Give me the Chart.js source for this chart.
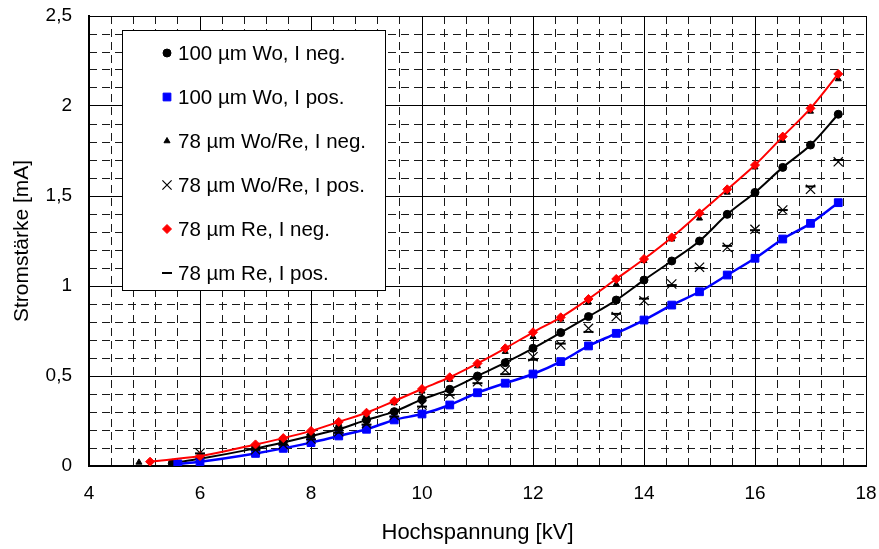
<!DOCTYPE html>
<html>
<head>
<meta charset="utf-8">
<script src="https://cdn.jsdelivr.net/npm/chart.js@4/dist/chart.umd.min.js"></script>
<style>
  body { margin: 0; background: #fff; }
  #wrap { position: relative; width: 879px; height: 549px; }
</style>
</head>
<body>
<div id="wrap"><canvas id="ctx"></canvas></div>
<script>
// voltages (kV)
const kvWoNeg   = [5.5, 6, 7, 7.5, 8, 8.5, 9, 9.5, 10, 10.5, 11, 11.5, 12, 12.5, 13, 13.5, 14, 14.5, 15, 15.5, 16, 16.5, 17, 17.5];
const kvWoPos   = [5.6, 6, 7, 7.5, 8, 8.5, 9, 9.5, 10, 10.5, 11, 11.5, 12, 12.5, 13, 13.5, 14, 14.5, 15, 15.5, 16, 16.5, 17, 17.5];
const kvWoReNeg = [4.9, 6, 7, 7.5, 8, 8.5, 9, 9.5, 10, 10.5, 11, 11.5, 12, 12.5, 13, 13.5, 14, 14.5, 15, 15.5, 16, 16.5, 17, 17.5];
const kvWoRePos = [6, 7, 7.5, 8, 8.5, 9, 9.5, 10, 10.5, 11, 11.5, 12, 12.5, 13, 13.5, 14, 14.5, 15, 15.5, 16, 16.5, 17, 17.5];
const kvReNeg   = [5.1, 6, 7, 7.5, 8, 8.5, 9, 9.5, 10, 10.5, 11, 11.5, 12, 12.5, 13, 13.5, 14, 14.5, 15, 15.5, 16, 16.5, 17, 17.5];
const kvRePos   = [6, 7, 7.5, 8, 8.5, 9, 9.5, 10, 10.5, 11, 11.5, 12, 12.5, 13, 13.5, 14, 14.5, 15, 15.5, 16, 16.5, 17, 17.5];

// currents (mA)
const mAWoNeg   = [0.015, 0.04, 0.098, 0.131, 0.167, 0.204, 0.256, 0.302, 0.37, 0.426, 0.5, 0.574, 0.654, 0.741, 0.83, 0.922, 1.033, 1.139, 1.25, 1.398, 1.52, 1.659, 1.783, 1.954];
const mAWoPos   = [0.012, 0.024, 0.07, 0.098, 0.13, 0.167, 0.204, 0.256, 0.289, 0.339, 0.407, 0.46, 0.511, 0.58, 0.667, 0.737, 0.811, 0.894, 0.968, 1.061, 1.154, 1.261, 1.348, 1.463];
const mAWoReNeg = [0.02, 0.05, 0.115, 0.15, 0.19, 0.235, 0.285, 0.35, 0.415, 0.48, 0.555, 0.635, 0.718, 0.815, 0.91, 1.01, 1.14, 1.26, 1.376, 1.52, 1.66, 1.81, 1.97, 2.15];
const mAWoRePos = [0.072, 0.09, 0.12, 0.15, 0.19, 0.235, 0.28, 0.339, 0.4, 0.468, 0.533, 0.607, 0.672, 0.765, 0.83, 0.918, 1.011, 1.104, 1.215, 1.315, 1.422, 1.537, 1.69];
const mAReNeg   = [0.024, 0.055, 0.12, 0.155, 0.195, 0.245, 0.296, 0.361, 0.428, 0.493, 0.57, 0.654, 0.743, 0.826, 0.928, 1.039, 1.15, 1.27, 1.404, 1.537, 1.672, 1.83, 1.987, 2.178];
const mARePos   = [0.07, 0.09, 0.118, 0.148, 0.185, 0.23, 0.275, 0.33, 0.395, 0.46, 0.51, 0.59, 0.68, 0.745, 0.845, 0.93, 1.005, 1.1, 1.223, 1.31, 1.422, 1.553, 1.7];

const seriesNames = ["100 µm Wo, I neg.", "100 µm Wo, I pos.", "78 µm Wo/Re, I neg.",
                     "78 µm Wo/Re, I pos.", "78 µm Re, I neg.", "78 µm Re, I pos."];
const xTicks = [4, 6, 8, 10, 12, 14, 16, 18];
const yTicks = [0, 0.5, 1, 1.5, 2, 2.5];

const FONT = "'Liberation Sans', Arial, sans-serif";

function pts(xs, ys) {
    return xs.map((x, i) => ({x: x, y: ys[i]}));
}

const datasets = [
    {label: seriesNames[0], data: pts(kvWoNeg, mAWoNeg), showLine: true, borderColor: "#000", borderWidth: 2,
     pointStyle: "circle", pointRadius: 4, pointBackgroundColor: "#000", pointBorderColor: "#000", pointBorderWidth: 1, order: 6},
    {label: seriesNames[1], data: pts(kvWoPos, mAWoPos), showLine: true, borderColor: "#0000ff", borderWidth: 2.5,
     pointStyle: "rect", pointRadius: 5.5, pointBackgroundColor: "#0000ff", pointBorderColor: "#0000ff", pointBorderWidth: 1, order: 5},
    {label: seriesNames[2], data: pts(kvWoReNeg, mAWoReNeg), showLine: false,
     pointStyle: "triangle", pointRadius: 3.5, pointBackgroundColor: "#000", pointBorderColor: "#000", pointBorderWidth: 1, order: 4},
    {label: seriesNames[3], data: pts(kvWoRePos, mAWoRePos), showLine: false,
     pointStyle: "crossRot", pointRadius: 6.5, pointBorderColor: "#000", pointBorderWidth: 1.2, order: 3},
    {label: seriesNames[4], data: pts(kvReNeg, mAReNeg), showLine: true, borderColor: "#ff0000", borderWidth: 2,
     pointStyle: "rectRot", pointRadius: 4.5, pointBackgroundColor: "#ff0000", pointBorderColor: "#ff0000", pointBorderWidth: 1, order: 2},
    {label: seriesNames[5], data: pts(kvRePos, mARePos), showLine: false,
     pointStyle: "line", pointRadius: 5, pointBorderColor: "#000", pointBorderWidth: 2, order: 1}
];

// legend box inside the plot, like the Excel original
const boxLegend = {
    id: "boxLegend",
    afterDatasetsDraw(chart) {
        const c = chart.ctx;
        c.save();
        c.fillStyle = "#fff";
        c.fillRect(122.5, 30.5, 263, 260);
        c.strokeStyle = "#000";
        c.lineWidth = 1;
        c.strokeRect(122.5, 30.5, 263, 260);
        c.font = "20.5px " + FONT;
        c.textBaseline = "middle";
        c.textAlign = "left";
        chart.data.datasets.forEach((ds, i) => {
            const y = 53 + i * 44;
            c.fillStyle = ds.pointBackgroundColor || "#000";
            c.strokeStyle = ds.pointBorderColor;
            c.lineWidth = ds.pointBorderWidth;
            Chart.helpers.drawPoint(c, {pointStyle: ds.pointStyle, radius: ds.pointRadius, borderWidth: ds.pointBorderWidth, rotation: 0}, 167, y);
            c.fillStyle = "#000";
            c.fillText(ds.label, 178, y + 1);
        });
        c.restore();
    }
};

new Chart("ctx", {
    type: "scatter",
    data: {datasets: datasets},
    plugins: [boxLegend],
    options: {
        responsive: true,
        maintainAspectRatio: false,
        animation: false,
        layout: {padding: {top: 16, right: 13, left: 0, bottom: 0}},
        plugins: {legend: {display: false}, tooltip: {enabled: false}},
        elements: {line: {cubicInterpolationMode: "monotone"}},
        scales: {
            x: {
                type: "linear", position: "bottom", min: 4, max: 18,
                afterBuildTicks: s => { s.ticks = xTicks.map(v => ({value: v})); },
                afterFit: s => { s.height = 83; s.paddingLeft = 0; s.paddingRight = 0; },
                ticks: {autoSkip: false, maxRotation: 0, padding: 16, color: "#000",
                        font: {family: FONT, size: 19}},
                grid: {color: "#000", lineWidth: 1, drawTicks: false, z: -1},
                border: {color: "#000", width: 2},
                title: {display: true, text: "Hochspannung [kV]", color: "#000",
                        font: {family: FONT, size: 22}, padding: {top: 0, bottom: 3}}
            },
            xMinor: {
                type: "linear", position: "bottom", min: 4, max: 18,
                ticks: {display: false, stepSize: 0.4, autoSkip: false},
                afterFit: s => { s.height = 0; s.paddingLeft = 0; s.paddingRight = 0; },
                grid: {color: "#1a1a1a", lineWidth: 1, drawTicks: false, z: -2},
                border: {display: false, dash: [8, 5]}
            },
            y: {
                type: "linear", position: "left", min: 0, max: 2.5,
                afterBuildTicks: s => { s.ticks = yTicks.map(v => ({value: v})); },
                afterFit: s => { s.width = 89; s.paddingTop = 0; s.paddingBottom = 0; },
                ticks: {padding: 17, color: "#000", font: {family: FONT, size: 19},
                        callback: v => String(v).replace(".", ",")},
                grid: {color: "#000", lineWidth: 1, drawTicks: false, z: -1},
                border: {color: "#000", width: 2},
                title: {display: true, text: "Stromstärke [mA]", color: "#000",
                        font: {family: FONT, size: 21}, padding: {top: 10, bottom: 0}}
            },
            yMinor: {
                type: "linear", position: "left", min: 0, max: 2.5,
                ticks: {display: false, stepSize: 0.1},
                afterFit: s => { s.width = 0; s.paddingTop = 0; s.paddingBottom = 0; },
                grid: {color: "#1a1a1a", lineWidth: 1, drawTicks: false, z: -2},
                border: {display: false, dash: [8, 5]}
            }
        }
    }
});
</script>
</body>
</html>
